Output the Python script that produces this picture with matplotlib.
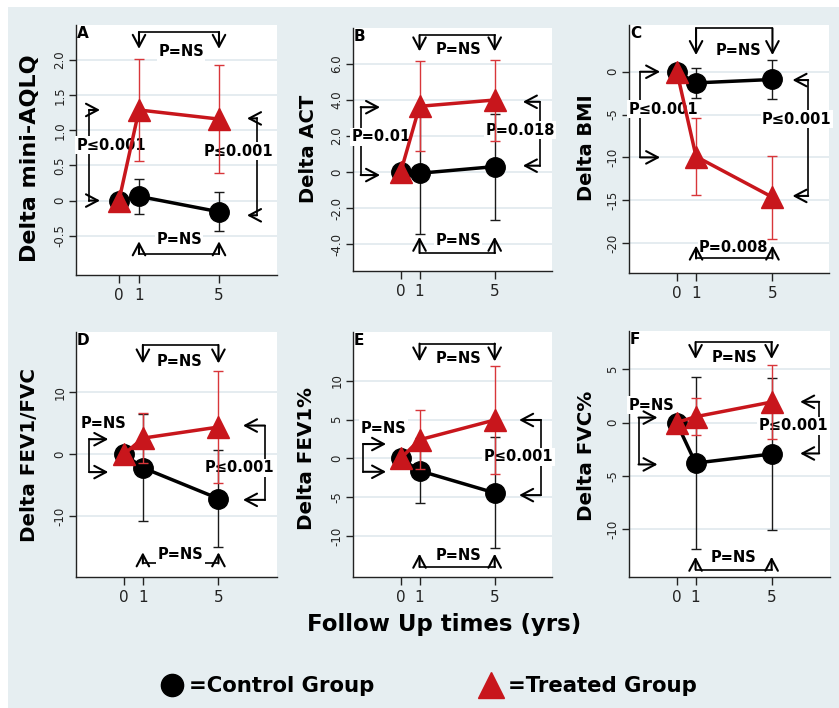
import matplotlib
matplotlib.use('Agg')
import matplotlib.pyplot as plt
from matplotlib.patches import Rectangle
from matplotlib.lines import Line2D

# ---------------- data ----------------
years = [0, 1, 5]
xtick_labels = ['0', '1', '5']
panel_letters = ['A', 'B', 'C', 'D', 'E', 'F']
y_labels = ['Delta mini-AQLQ', 'Delta ACT', 'Delta BMI',
            'Delta FEV1/FVC', 'Delta FEV1%', 'Delta FVC%']

ctrl_A = [0, 0.06, -0.16];   ctrl_err_A = [0, 0.25, 0.28]
trt_A = [0, 1.29, 1.16];     trt_err_A = [0, 0.72, 0.77]
ctrl_B = [0, -0.07, 0.30];   ctrl_err_B = [0, 3.4, 2.95]
trt_B = [0, 3.65, 4.0];      trt_err_B = [0, 2.5, 2.25]
ctrl_C = [0, -1.3, -0.9];    ctrl_err_C = [0, 1.72, 2.33]
trt_C = [0, -9.9, -14.65];   trt_err_C = [0, 4.5, 4.85]
ctrl_D = [0, -2.2, -7.2];    ctrl_err_D = [0, 8.7, 7.8]
trt_D = [0, 2.6, 4.4];       trt_err_D = [0, 4.0, 9.1]
ctrl_E = [0, -1.6, -4.45];   ctrl_err_E = [0, 4.2, 7.15]
trt_E = [0, 2.4, 4.95];      trt_err_E = [0, 3.8, 7.0]
ctrl_F = [0, -3.8, -2.95];   ctrl_err_F = [0, 8.1, 7.15]
trt_F = [0, 0.55, 1.93];     trt_err_F = [0, 1.75, 3.5]

yticks_A = [-0.5, 0, 0.5, 1.0, 1.5, 2.0]
yticklabels_A = ['-0.5', '0', '0.5', '1.0', '1.5', '2.0']
yticks_B = [-4, -2, 0, 2, 4, 6]
yticklabels_B = ['-4.0', '-2.0', '0', '2.0', '4.0', '6.0']
yticks_C = [-20, -15, -10, -5, 0]
yticklabels_C = ['-20', '-15', '-10', '-5', '0']
yticks_D = [-10, 0, 10]
yticklabels_D = ['-10', '0', '10']
yticks_E = [-10, -5, 0, 5, 10]
yticklabels_E = ['-10', '-5', '0', '5', '10']
yticks_F = [-10, -5, 0, 5]
yticklabels_F = ['-10', '-5', '0', '5']

p_top = ['P=NS', 'P=NS', 'P=NS', 'P=NS', 'P=NS', 'P=NS']
p_bottom = ['P=NS', 'P=NS', 'P=0.008', 'P=NS', 'P=NS', 'P=NS']
p_left = ['P\u22640.001', 'P=0.01', 'P\u22640.001', 'P=NS', 'P=NS', 'P=NS']
p_right = ['P\u22640.001', 'P=0.018', 'P\u22640.001', 'P\u22640.001', 'P\u22640.001', 'P\u22640.001']

legend_labels = ['=Control Group', '=Treated Group']
x_label = 'Follow Up times (yrs)'

# ---------------- layout ----------------
W, H = 839, 708
BG = '#e6eef1'
GRID = '#e0e9ed'
RED = '#c8161c'
RED_ERR = '#d8363a'

fig = plt.figure(figsize=(W / 100, H / 100), dpi=100, facecolor='white')
fig.patches.append(Rectangle((8 / W, 0), 1, 1 - 7 / H, transform=fig.transFigure,
                             facecolor=BG, edgecolor='none', zorder=-10))

def px_axes(l, t, r, b):
    return fig.add_axes([l / W, 1 - b / H, (r - l) / W, (b - t) / H])

rects = [(76, 25, 277, 275), (353, 28, 552, 271), (629, 25, 829, 273),
         (76, 332, 277, 577), (353, 332, 552, 577), (629, 331, 830, 577)]
xlims = [(-2.15, 7.9), (-2.54, 8.05), (-2.51, 7.96),
         (-2.54, 8.1), (-2.54, 8.05), (-2.5, 8.07)]
ylims = [(-1.06, 2.5), (-5.5, 8.0), (-23.5, 5.46),
         (-19.9, 19.8), (-15.3, 16.3), (-14.5, 8.6)]
ylabel_pos = [(30, 158, 16), (309, 149, 14), (586, 148, 14),
              (30, 455, 14.3), (307, 458, 14.3), (586, 456, 14.3)]

# annotation geometry: top(y_line, y_tip, tx, ty), bottom(...), left(x_line, y1, y2, x_tip, tx, ty), right(...)
ann = [
    dict(top=(2.4, 2.16, 3.1, 2.12), bot=(-0.76, -0.58, 3.0, -0.56),
         left=(-1.5, 1.29, 0.0, -0.95, -0.4, 0.79), right=(6.9, 1.17, -0.21, 6.4, 5.95, 0.7)),
    dict(top=(7.6, 6.7, 3.07, 6.8), bot=(-4.5, -3.6, 3.05, -3.8),
         left=(-2.13, 3.6, -0.17, -1.1, -1.05, 1.96), right=(7.4, 3.9, 0.35, 6.5, 6.35, 2.33)),
    dict(top=(5.07, 1.95, 3.24, 2.5), bot=(-21.8, -20.3, 2.98, -20.5),
         left=(-1.93, 0.0, -10.0, -0.88, -0.7, -4.4), right=(6.87, -0.97, -14.5, 6.05, 6.28, -5.57)),
    dict(top=(17.7, 14.7, 2.96, 15.0), bot=(-17.7, -15.9, 3.0, -16.3),
         left=(-1.84, 2.43, -2.9, -0.83, -1.1, 5.0), right=(7.46, 4.64, -7.4, 6.3, 6.1, -2.17)),
    dict(top=(14.8, 12.5, 3.05, 12.9), bot=(-14.0, -12.3, 3.05, -12.5),
         left=(-2.0, 1.85, -1.73, -0.78, -0.92, 3.9), right=(7.46, 4.95, -4.74, 6.3, 6.28, 0.2)),
    dict(top=(7.55, 5.97, 3.07, 6.13), bot=(-13.8, -12.6, 3.0, -12.7),
         left=(-2.0, 0.47, -3.93, -1.0, -1.3, 1.63), right=(7.5, 1.95, -2.9, 6.5, 6.16, -0.3)),
]

ctrls = [ctrl_A, ctrl_B, ctrl_C, ctrl_D, ctrl_E, ctrl_F]
ctrl_errs = [ctrl_err_A, ctrl_err_B, ctrl_err_C, ctrl_err_D, ctrl_err_E, ctrl_err_F]
trts = [trt_A, trt_B, trt_C, trt_D, trt_E, trt_F]
trt_errs = [trt_err_A, trt_err_B, trt_err_C, trt_err_D, trt_err_E, trt_err_F]
ytick_sets = [yticks_A, yticks_B, yticks_C, yticks_D, yticks_E, yticks_F]
ytick_label_sets = [yticklabels_A, yticklabels_B, yticklabels_C,
                    yticklabels_D, yticklabels_E, yticklabels_F]

ARROW = dict(arrowstyle='->,head_length=0.85,head_width=0.45', lw=1.5, color='black',
             shrinkA=0, shrinkB=0)
PFONT = dict(fontsize=10.5, fontweight='bold', ha='center', va='center', zorder=3,
             bbox=dict(facecolor='white', edgecolor='none', pad=1.0))


def hbracket(ax, y_line, y_tip, tx, ty, label):
    ax.plot([years[1], years[2]], [y_line, y_line], color='black', lw=1.2, zorder=2)
    for x in (years[1], years[2]):
        ax.annotate('', xy=(x, y_tip), xytext=(x, y_line), arrowprops=ARROW, zorder=3.5)
    ax.text(tx, ty, label, **PFONT)


def vbracket(ax, x_line, y1, y2, x_tip, tx, ty, label):
    ax.plot([x_line, x_line], [y1, y2], color='black', lw=1.2, zorder=2)
    for y in (y1, y2):
        ax.annotate('', xy=(x_tip, y), xytext=(x_line, y), arrowprops=ARROW, zorder=3.5)
    ax.text(tx, ty, label, **PFONT)


for i in range(6):
    ax = px_axes(*rects[i])
    ax.set_facecolor('white')
    ax.set_xlim(*xlims[i])
    ax.set_ylim(*ylims[i])
    for s in ('top', 'right'):
        ax.spines[s].set_visible(False)
    for s in ('left', 'bottom'):
        ax.spines[s].set_color('#222222')
        ax.spines[s].set_linewidth(1.0)
    ax.set_xticks(years)
    ax.set_xticklabels(xtick_labels)
    ax.set_yticks(ytick_sets[i])
    ax.set_yticklabels(ytick_label_sets[i])
    ax.tick_params(axis='x', direction='out', length=5.5, width=1, labelsize=11,
                   pad=4, colors='#222222')
    ax.tick_params(axis='y', direction='out', length=5, width=1, labelsize=8.5,
                   pad=2, colors='#222222', labelrotation=90)
    for lab in ax.get_yticklabels():
        lab.set_va('center')
    ax.grid(axis='y', color=GRID, lw=1.2, zorder=0)
    ax.set_axisbelow(True)

    ax.errorbar(years, ctrls[i], yerr=ctrl_errs[i], fmt='none', ecolor='#1a1a1a',
                elinewidth=1.0, capsize=3.5, capthick=1.0, zorder=4)
    ax.plot(years, ctrls[i], '-o', color='black', lw=2.5, ms=14, zorder=5)
    ax.errorbar(years, trts[i], yerr=trt_errs[i], fmt='none', ecolor=RED_ERR,
                elinewidth=1.0, capsize=3.5, capthick=1.0, zorder=6)
    ax.plot(years, trts[i], '-^', color=RED, lw=2.5, ms=16.5, zorder=7)

    a = ann[i]
    hbracket(ax, *a['top'], p_top[i])
    hbracket(ax, *a['bot'], p_bottom[i])
    vbracket(ax, *a['left'], p_left[i])
    vbracket(ax, *a['right'], p_right[i])

    ax.text(0.005, 0.995, panel_letters[i], transform=ax.transAxes, ha='left', va='top',
            fontsize=11, fontweight='bold', zorder=8)

    lx, ly, lsize = ylabel_pos[i]
    fig.text(lx / W, 1 - ly / H, y_labels[i], rotation=90, ha='center', va='center',
             fontsize=lsize, fontweight='bold')

fig.text(444 / W, 1 - 624 / H, x_label, ha='center', va='center', fontsize=16.5,
         fontweight='bold')

handles = [Line2D([], [], ls='none', marker='o', color='black', ms=16),
           Line2D([], [], ls='none', marker='^', color=RED, ms=19)]
fig.legend(handles, legend_labels, loc='center', bbox_to_anchor=(429 / W, 1 - 686 / H),
           ncol=2, frameon=False, prop=dict(weight='bold', size=15.3),
           handlelength=1.0, handletextpad=0.3, columnspacing=5.0)

fig.savefig('out.png', dpi=100, facecolor=fig.get_facecolor())
